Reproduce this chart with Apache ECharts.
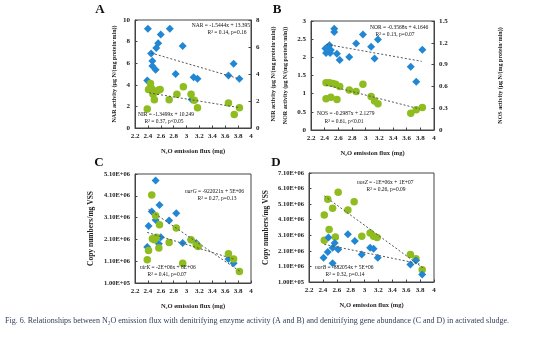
<!DOCTYPE html>
<html><head><meta charset="utf-8">
<script src="https://cdn.jsdelivr.net/npm/echarts@6/dist/echarts.min.js"></script>
<style>html,body{margin:0;padding:0;background:#fff}#c{width:554px;height:337px}</style>
</head><body><div id="c"></div>
<script>
// ---------- Panel A ----------
const aNarX = [2.39,2.40,2.45,2.47,2.47,2.52,2.53,2.56,2.60,2.74,2.83,2.94,3.08,3.11,3.17,3.65,3.73,3.82];
const aNarY = [4.4,9.2,6.9,6.2,5.75,5.4,7.4,7.85,8.65,9.2,5.0,7.6,2.65,4.7,4.55,4.85,5.95,4.55];
const aNirX = [2.39,2.41,2.44,2.46,2.48,2.50,2.53,2.56,2.59,2.73,2.85,2.95,3.07,3.12,3.17,3.65,3.74,3.82];
const aNirY = [1.4,2.85,3.3,2.9,2.5,2.1,2.7,2.8,2.85,2.1,2.5,3.05,2.5,2.05,1.5,1.85,1.0,1.5];
const aNarTrendX = [2.45,3.82], aNarTrendY = [6.95,4.55];
const aNirTrendX = [2.42,3.83], aNirTrendY = [2.6,1.5];
// ---------- Panel B ----------
const bNorX = [2.41,2.42,2.47,2.48,2.49,2.54,2.54,2.58,2.62,2.76,2.86,2.96,3.08,3.13,3.18,3.66,3.74,3.83];
const bNorY = [2.24,2.12,2.33,2.12,2.2,2.79,2.70,2.10,1.93,2.01,2.38,2.63,2.29,1.97,2.49,1.74,1.33,2.21];
const bNosX = [2.42,2.42,2.47,2.49,2.52,2.56,2.58,2.62,2.76,2.86,2.96,3.08,3.13,3.18,3.66,3.74,3.83];
const bNosY = [0.65,0.43,0.65,0.45,0.64,0.63,0.42,0.60,0.55,0.53,0.63,0.46,0.40,0.36,0.23,0.28,0.31];
const bNorTrendX = [2.42,3.82], bNorTrendY = [2.36,1.89];
const bNosTrendX = [2.42,3.79], bNosTrendY = [0.62,0.29];
// ---------- Panel C ----------
const cBlueX = [2.39,2.41,2.46,2.52,2.52,2.57,2.58,2.60,2.73,2.84,2.94,3.07,3.15,3.17,3.65,3.73];
const cBlueY = [1.75e6,2.72e6,3.38e6,4.8e6,2.99e6,1.90e6,3.68e6,2.2e6,2.97e6,3.3e6,1.93e6,2.08e6,1.93e6,1.85e6,1.2e6,1.01e6];
const cGreenX = [2.39,2.41,2.46,2.47,2.50,2.52,2.53,2.57,2.58,2.73,2.84,2.94,3.07,3.15,3.18,3.65,3.73,3.82];
const cGreenY = [1.17e6,1.59e6,4.14e6,2.13e6,2.08e6,3.18e6,2.2e6,1.70e6,2.77e6,1.96e6,2.62e6,1.01e6,2.08e6,1.85e6,1.78e6,1.44e6,1.2e6,0.63e6];
const cSteepTrendX = [2.41,3.83], cSteepTrendY = [3.48e6,0.63e6];
const cFlatTrendX = [2.39,3.73], cFlatTrendY = [2.42e6,1.2e6];
const cTicks = [1e5,1.1e6,2.1e6,3.1e6,4.1e6,5.1e6];
// ---------- Panel D ----------
const dGreenX = [2.42,2.42,2.47,2.49,2.54,2.58,2.62,2.76,2.85,2.96,3.08,3.13,3.18,3.66,3.74,3.83];
const dGreenY = [4.40e6,2.78e6,5.41e6,3.47e6,4.83e6,2.99e6,5.87e6,4.72e6,5.26e6,3.04e6,3.25e6,3.04e6,2.95e6,1.87e6,1.59e6,0.88e6];
const dBlueX = [2.41,2.47,2.48,2.54,2.54,2.57,2.62,2.76,2.86,2.96,3.08,3.13,3.19,3.66,3.74,3.83];
const dBlueY = [1.66e6,2.02e6,2.95e6,2.30e6,1.31e6,2.61e6,2.19e6,3.17e6,2.73e6,1.87e6,2.30e6,2.24e6,1.66e6,1.22e6,1.48e6,0.58e6];
const dGreenTrendX = [2.42,3.84], dGreenTrendY = [5.63e6,1.01e6];
const dBlueTrendX = [2.42,3.79], dBlueTrendY = [2.52e6,1.27e6];
const dTicks = [1e5,1.1e6,2.1e6,3.1e6,4.1e6,5.1e6,6.1e6,7.1e6];

const zip = (xs, ys) => xs.map((x, i) => [x, ys[i]]);
const BLUE = '#2287d2', GREEN = '#8fbc1e', SERIF = 'Liberation Serif';
function sci(v){
  const e = Math.floor(Math.log10(v) + 1e-9);
  const m = v / Math.pow(10, e);
  return m.toFixed(2) + 'E+' + String(e).padStart(2, '0');
}
const lblStyle = {fontFamily: SERIF, fontWeight: 'bold', fontSize: 7, color: '#222'};
const sciLbl = {fontFamily: SERIF, fontWeight: 'bold', fontSize: 6.5, color: '#222'};
const lineStyle = {lineStyle: {color: '#444', width: 1}};
const tickStyle = {show: true, inside: true, length: 2.5, lineStyle: {color: '#444'}};

const grids = [
  {left: 135, top: 20, width: 116, height: 108},
  {left: 311, top: 21, width: 123, height: 109},
  {left: 135, top: 174, width: 116, height: 109},
  {left: 309, top: 173, width: 125, height: 109}
].map(g => Object.assign({show: true, borderColor: '#444', borderWidth: 1, backgroundColor: 'transparent'}, g));

const xAxes = [0,1,2,3].map(i => ({
  type: 'value', gridIndex: i, min: 2.2, max: 4, interval: 0.2,
  axisLine: lineStyle, axisTick: tickStyle, splitLine: {show: false},
  axisLabel: Object.assign({margin: 5}, lblStyle),
  name: 'N\u2082O emission flux (mg)', nameLocation: 'middle', nameGap: 20,
  nameTextStyle: {fontFamily: SERIF, fontWeight: 'bold', fontSize: 6.5, color: '#222'}
}));

function yAx(grid, pos, min, max, interval, name, gap, nameSize, extra){
  return Object.assign({
    type: 'value', gridIndex: grid, position: pos, min, max, interval,
    axisLine: Object.assign({show: true}, lineStyle), axisTick: tickStyle, splitLine: {show: false},
    axisLabel: Object.assign({margin: 5}, lblStyle),
    name, nameLocation: 'middle', nameGap: gap, nameRotate: 90,
    nameTextStyle: {fontFamily: SERIF, fontWeight: 'bold', fontSize: nameSize, color: '#222'}
  }, extra || {});
}
const yAxes = [
  yAx(0, 'left', 0, 10, 2, 'NAR activity (\u03bcg N/(mg protein\u00b7min))', 18, 6),
  yAx(0, 'right', 0, 8, 2, 'NIR activity (\u03bcg N/(mg protein\u00b7min))', 19, 6),
  yAx(1, 'left', 0, 3, 0.5, 'NOR activity (\u03bcg N/(mg protein\u00b7min))', 23, 6),
  yAx(1, 'right', 0, 1.5, 0.3, 'NOS activity (\u03bcg N/(mg protein\u00b7min))', 63, 6),
  yAx(2, 'left', 1e5, 5.1e6, 1e6, 'Copy numbers/mg VSS', 40, 7.5, {
    axisLabel: Object.assign({margin: 5, customValues: cTicks, formatter: sci}, sciLbl),
    axisTick: Object.assign({customValues: cTicks}, tickStyle)}),
  yAx(3, 'left', 1e5, 7.1e6, 1e6, 'Copy numbers/mg VSS', 39, 7.5, {
    axisLabel: Object.assign({margin: 5, customValues: dTicks, formatter: sci}, sciLbl),
    axisTick: Object.assign({customValues: dTicks}, tickStyle)})
];

function sc(xi, yi, xs, ys, color, symbol, size){
  return {type: 'scatter', xAxisIndex: xi, yAxisIndex: yi, data: zip(xs, ys),
    symbol, symbolSize: size, itemStyle: {color, opacity: 1}, z: 3};
}
function tr(xi, yi, xs, ys){
  return {type: 'line', xAxisIndex: xi, yAxisIndex: yi, data: zip(xs, ys), symbol: 'none',
    lineStyle: {color: '#555', width: 1, type: [2, 2]}, z: 4};
}
const DS = 8, CS = 7.5;
const series = [
  sc(0, 0, aNarX, aNarY, BLUE, 'diamond', DS), sc(0, 1, aNirX, aNirY, GREEN, 'circle', CS),
  tr(0, 0, aNarTrendX, aNarTrendY), tr(0, 1, aNirTrendX, aNirTrendY),
  sc(1, 2, bNorX, bNorY, BLUE, 'diamond', DS), sc(1, 3, bNosX, bNosY, GREEN, 'circle', CS),
  tr(1, 2, bNorTrendX, bNorTrendY), tr(1, 3, bNosTrendX, bNosTrendY),
  sc(2, 4, cBlueX, cBlueY, BLUE, 'diamond', DS), sc(2, 4, cGreenX, cGreenY, GREEN, 'circle', CS),
  tr(2, 4, cSteepTrendX, cSteepTrendY), tr(2, 4, cFlatTrendX, cFlatTrendY),
  sc(3, 5, dGreenX, dGreenY, GREEN, 'circle', CS), sc(3, 5, dBlueX, dBlueY, BLUE, 'diamond', DS),
  tr(3, 5, dGreenTrendX, dGreenTrendY), tr(3, 5, dBlueTrendX, dBlueTrendY)
];

function txt(text, x, y, align, size, extra){
  return {type: 'text', x, y, z: 10, style: Object.assign({
    text, textAlign: align, textVerticalAlign: 'middle',
    font: (size > 9 ? 'bold ' : '') + size + 'px "' + SERIF + '"', fill: '#111'}, extra || {})};
}
const it = {rich: {i: {fontStyle: 'italic', fontFamily: SERIF, fontSize: 5.5}}};
const graphic = [
  txt('A', 100, 10, 'center', 13), txt('B', 277, 10, 'center', 13),
  txt('C', 99, 163, 'center', 13), txt('D', 276, 163, 'center', 13),
  txt('NAR = -1.5444x + 13.395', 250, 26, 'right', 5.5),
  txt('R\u00b2 = 0.14, p=0.16', 227, 33, 'center', 5.5),
  txt('NIR = -1.3499x + 10.249', 138, 115, 'left', 5.5),
  txt('R\u00b2 = 0.37, p<0.05', 164, 122, 'center', 5.5),
  txt('NOR = -0.3568x + 4.1646', 370, 28, 'left', 5.5),
  txt('R\u00b2 = 0.13, p=0.07', 395, 35, 'center', 5.5),
  txt('NOS = -0.2987x + 2.1279', 317, 114, 'left', 5.5),
  txt('R\u00b2 = 0.61, p<0.01', 344, 122, 'center', 5.5),
  txt('{i|narG} = -922021x + 5E+06', 185, 192, 'left', 5.5, it),
  txt('R\u00b2 = 0.27, p=0.13', 217, 199, 'center', 5.5),
  txt('{i|nirK} = -2E+06x + 8E+06', 140, 268, 'left', 5.5, it),
  txt('R\u00b2 = 0.41, p=0.07', 167, 275, 'center', 5.5),
  txt('{i|nosZ} = -1E+06x + 1E+07', 357, 183, 'left', 5.5, it),
  txt('R\u00b2 = 0.26, p=0.09', 386, 190, 'center', 5.5),
  txt('{i|norB} = -882054x + 5E+06', 315, 268, 'left', 5.5, it),
  txt('R\u00b2 = 0.32, p=0.14', 345, 275, 'center', 5.5),
  txt('Fig. 6. Relationships between N\u2082O emission flux with denitrifying enzyme activity (A and B) and denitrifying gene abundance (C and D) in activated sludge.',
      5, 321, 'left', 8, {fill: '#34405a'})
];

const chart = echarts.init(document.getElementById('c'), null, {renderer: 'canvas'});
chart.setOption({animation: false, backgroundColor: '#fff', grid: grids, xAxis: xAxes, yAxis: yAxes, series, graphic});
</script>
</body></html>
